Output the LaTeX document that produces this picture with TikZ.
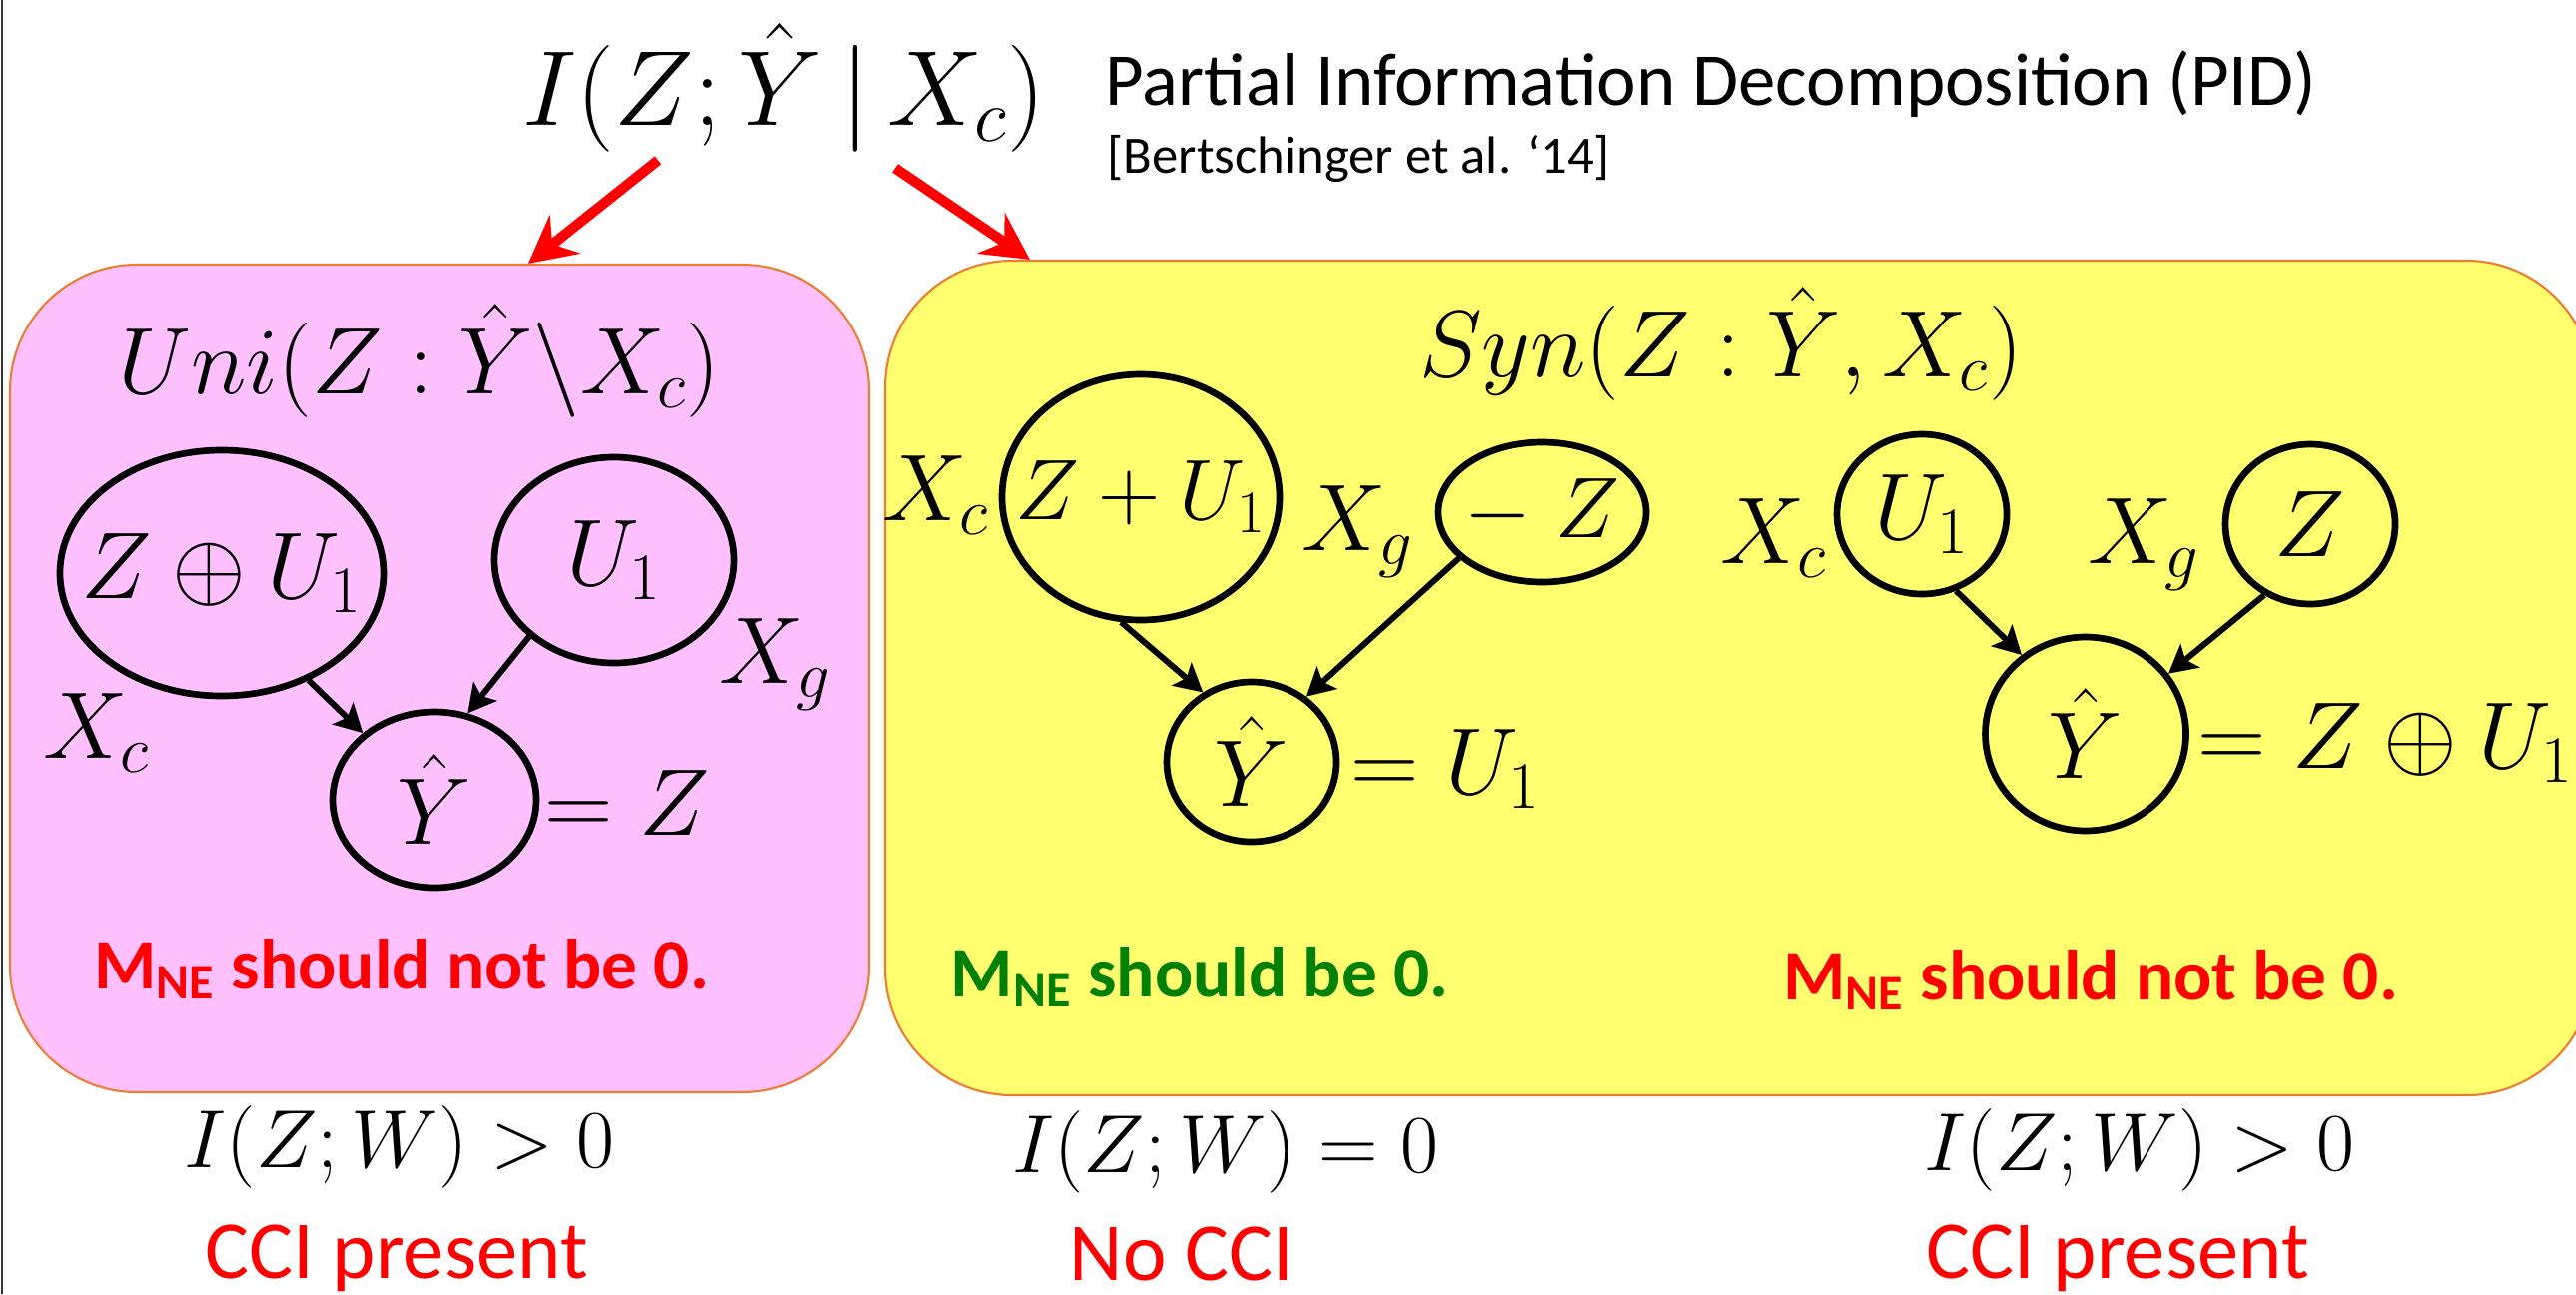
\RequirePackage{fix-cm}
\documentclass[tikz,border=0pt]{standalone}
\usepackage[no-math]{fontspec}
\setmainfont{Carlito}
\usetikzlibrary{arrows.meta,shapes.geometric}
\definecolor{pinkfill}{HTML}{FFC0FF}
\definecolor{yellowfill}{HTML}{FFFF70}
\definecolor{boxline}{HTML}{ED7D31}
\definecolor{okgreen}{HTML}{008000}

\begin{document}
\begin{tikzpicture}[
    panel/.style={draw=boxline, line width=0.6pt, rounded corners=1.27cm, inner sep=0pt},
    var/.style={ellipse, draw, line width=1.9pt, inner sep=0pt, font=\fontsize{27}{32}\selectfont},
    mth/.style={inner sep=0pt, font=\fontsize{27}{32}\selectfont},
    lbl/.style={mth, anchor=base west},
    res/.style={inner sep=0pt, anchor=base, font=\fontsize{23.5}{28}\selectfont},
    warn/.style={inner sep=0pt, anchor=base, font=\bfseries\fontsize{20.3}{24}\selectfont},
    arr/.style={-{Stealth[length=2.8mm,width=3.0mm,inset=0.6mm]}, line width=1.7pt},
    redarr/.style={-{Stealth[length=4.7mm,width=4.9mm,inset=1.6mm]}, red, line width=2.9pt}
]
\useasboundingbox (0,0) rectangle (25.79,-12.96);
\draw[line width=0.2mm, black!80] (0.018,0) -- (0.018,-12.96);

% panels
\node[panel, fill=pinkfill, minimum width=8.60cm, minimum height=8.29cm] (unibox) at (4.40,-6.795) {};
\node[panel, fill=yellowfill, minimum width=17.10cm, minimum height=8.36cm] (synbox) at (17.41,-6.79) {};

% title
\node[mth, anchor=base, font=\fontsize{30.4}{36}\selectfont] (cmi) at (7.85,-1.25) {$I(Z;\hat{Y}\,|\,X_c)$};
\node[inner sep=0pt, anchor=base west, font=\fontsize{21.3}{25}\selectfont] (pid) at (11.06,-1.05) {Partial Information Decomposition (PID)};
\node[inner sep=0pt, anchor=base west, font=\fontsize{15}{18}\selectfont] (cite) at (11.08,-1.73) {[Bertschinger et al. ‘14]};
\draw[redarr] ([xshift=-1.26cm,yshift=-0.08cm]cmi.south) -- ([xshift=5.20cm]unibox.north west);
\draw[redarr] ([xshift=1.11cm,yshift=-0.16cm]cmi.south) -- ([xshift=1.46cm]synbox.north west);

% unique information
\node[mth, anchor=base] (unit) at (4.20,-3.94) {$Uni(Z:\hat{Y}\backslash X_c)$};
\node[var, minimum width=3.24cm, minimum height=2.46cm] (zxu) at (2.22,-5.74) {\makebox[0pt]{$Z\oplus U_1$}};
\node[var, minimum width=2.40cm, minimum height=2.06cm] (ua) at (6.15,-5.61) {$U_1$};
\node[var, minimum width=2.04cm, minimum height=1.76cm] (ya) at (4.35,-8.01) {$\hat{Y}$};
\node[lbl] (eqa) at (5.45,-8.36) {$= Z$};
\node[lbl] (xca) at (0.43,-7.59) {$X_c$};
\node[lbl] (xga) at (7.20,-6.84) {$X_g$};
\node[warn, text=red] (mnea) at (4.02,-9.90) {M\textsubscript{NE} should not be 0.};
\draw[arr] (zxu.-51) -- (ya.137);
\draw[arr] (ua.222) -- (ya.69);

% synergy
\node[mth, anchor=base] (synt) at (17.23,-3.77) {$Syn(Z:\hat{Y},X_c)$};
\node[var, minimum width=2.78cm, minimum height=2.46cm, font=\fontsize{24.5}{29}\selectfont] (zpu) at (11.42,-4.98) {\makebox[0pt]{$Z+U_1$}};
\node[lbl] (xcb) at (8.83,-5.21) {$X_c$};
\node[lbl] (xgb) at (13.03,-5.51) {$X_g$};
\node[var, minimum width=2.08cm, minimum height=1.40cm, font=\fontsize{24.5}{29}\selectfont] (mz) at (15.44,-5.13) {\makebox[0pt]{$-\;Z$}};
\node[var, minimum width=1.70cm, minimum height=1.60cm] (yb) at (12.53,-7.63) {$\hat{Y}$};
\node[lbl] (eqb) at (13.52,-7.95) {$= U_1$};
\node[warn, text=okgreen] (mneb) at (12.01,-9.98) {M\textsubscript{NE} should be 0.};
\draw[arr] (zpu.-99) -- (yb.125);
\draw[arr] (mz.209) -- (yb.50);

\node[lbl] (xcc) at (17.22,-5.64) {$X_c$};
\node[var, minimum width=1.70cm, minimum height=1.60cm] (uc) at (19.24,-5.15) {$U_1$};
\node[lbl] (xgc) at (20.90,-5.64) {$X_g$};
\node[var, minimum width=1.70cm, minimum height=1.60cm] (zc) at (23.13,-5.25) {$Z$};
\node[var, minimum width=2.01cm, minimum height=1.94cm] (yc) at (20.88,-7.35) {$\hat{Y}$};
\node[lbl] (eqc) at (22.00,-7.69) {$= Z\oplus U_1$};
\node[warn, text=red] (mnec) at (20.93,-10.01) {M\textsubscript{NE} should not be 0.};
\draw[arr] (uc.-66) -- (yc.129);
\draw[arr] (zc.237) -- (yc.36);

% bottom row
\node[res] (iwa) at (4.00,-11.69) {$I(Z;W) > 0$};
\node[res, text=red] (ccia) at (3.97,-12.80) {CCI present};
\node[res] (iwb) at (12.27,-11.74) {$I(Z;W) = 0$};
\node[res, text=red] (ccib) at (11.83,-12.82) {No CCI};
\node[res] (iwc) at (21.42,-11.72) {$I(Z;W) > 0$};
\node[res, text=red] (ccic) at (21.20,-12.80) {CCI present};
\end{tikzpicture}
\end{document}
